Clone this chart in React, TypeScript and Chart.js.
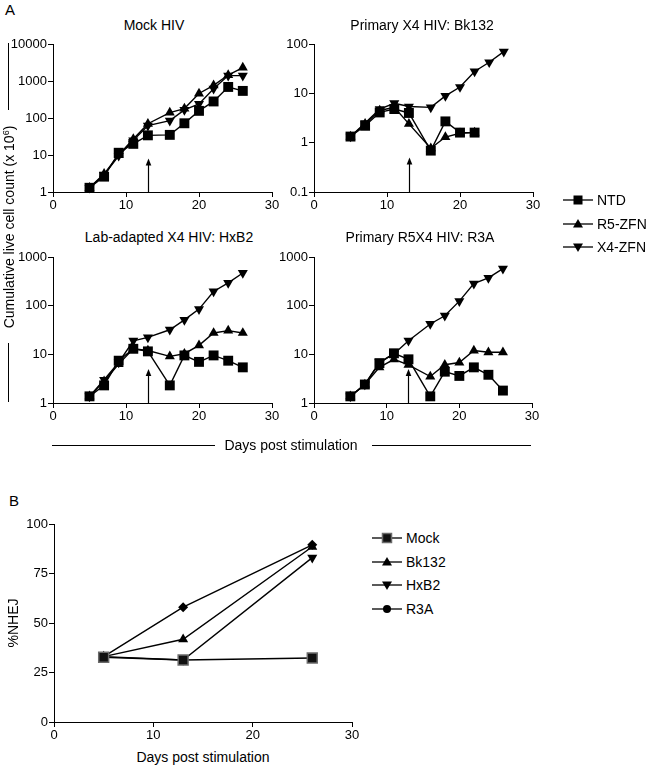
import React, { useEffect, useRef } from "react";
import { Chart, registerables } from "chart.js";
Chart.register(...registerables);

// ---------- data ----------
const DAYS_A = [5, 7, 9, 11, 13, 16, 18, 20, 22, 24, 26];
const SERIES_A = ["NTD", "R5-ZFN", "X4-ZFN"];

const MOCK_NTD = [1.3, 2.6, 11.5, 20, 34, 35, 72, 156, 280, 690, 540];
const MOCK_R5 = [1.3, 3.1, 10, 27, 70, 140, 180, 460, 760, 1450, 2300];
const MOCK_X4 = [1.3, 2.9, 9.5, 25, 62, 85, 166, 240, 620, 1400, 1400];

const BK_NTD = [1.33, 2.2, 4.1, 4.8, 4.0, 0.69, 2.7, 1.6, 1.6];
const BK_R5 = [1.33, 2.4, 4.5, 5.2, 2.4, 0.77, 1.3, 1.55, 1.6];
const BK_X4 = [1.33, 2.5, 4.8, 6.3, 5.4, 5.2, 8.9, 13.4, 27.7, 42.6, 70];

const HXB_NTD = [1.37, 2.3, 7.4, 13, 11.5, 2.3, 9.5, 7, 9.5, 7.4, 5.4];
const HXB_R5 = [1.37, 2.8, 6.3, 13, 12, 9.1, 10.3, 15.3, 27.5, 30.7, 27.5];
const HXB_X4 = [1.37, 3.0, 6.8, 19, 22.3, 32, 51, 85, 196, 293, 470];

const R3A_NTD = [1.37, 2.4, 6.6, 10.5, 7.9, 1.37, 4.4, 3.6, 5.4, 3.8, 1.8];
const R3A_R5 = [1.37, 2.4, 5.4, 7.9, 6.1, 3.5, 6.1, 6.8, 12, 11, 11];
const R3A_X4 = [1.37, 2.4, 6.9, 10.2, 19, 42, 62, 124, 284, 371, 576];

const ARROW_DAY = 13;
const ARROW_TIPS = [8, 0.5, 5, 5];

const TITLES_A = ["Mock HIV", "Primary X4 HIV: Bk132", "Lab-adapted X4 HIV: HxB2", "Primary R5X4 HIV: R3A"];
const LOG_TICKS_MOCK = [1, 10, 100, 1000, 10000];
const LOG_TICKS_BK = [0.1, 1, 10, 100];
const LOG_TICKS_LOW = [1, 10, 100, 1000];
const X_TICKS = [0, 10, 20, 30];

const DAYS_B = [5, 13, 26];
const SERIES_B = ["Mock", "Bk132", "HxB2", "R3A"];
const NHEJ_MOCK = [32.7, 31.3, 32.3];
const NHEJ_BK = [33, 41.8, 88.5];
const NHEJ_HXB = [33, 31.3, 83];
const NHEJ_R3A = [33, 58, 89.5];
const Y_TICKS_B = [0, 25, 50, 75, 100];

// ---------- styling ----------
const FONT = '"Liberation Sans", Arial, Helvetica, sans-serif';
const Y_AXIS_W = 48;
const X_AXIS_H = 25;
const PAD_TOP = 10;
const PAD_RIGHT = 12;

type Marker = { style: string; rot: number; r: number; bg: string; border: string; bw: number };
const SQ: Marker = { style: "rect", rot: 0, r: 7, bg: "#000", border: "#000", bw: 0 };
const UP: Marker = { style: "triangle", rot: 0, r: 5.8, bg: "#000", border: "#000", bw: 0 };
const DN: Marker = { style: "triangle", rot: 180, r: 5.8, bg: "#000", border: "#000", bw: 0 };
const SQ_B: Marker = { style: "rect", rot: 0, r: 7, bg: "#111", border: "#6a6a6a", bw: 1.5 };
const DIA: Marker = { style: "rectRot", rot: 0, r: 5, bg: "#000", border: "#000", bw: 0 };

const arrowPlugin = {
  id: "arrowMark",
  afterDatasetsDraw(chart: any, _args: any, opts: any) {
    if (!opts || opts.tip == null) return;
    const { ctx, scales, chartArea } = chart;
    const px = Math.round(scales.x.getPixelForValue(opts.day)) + 0.5;
    const y1 = scales.y.getPixelForValue(opts.tip);
    ctx.save();
    ctx.strokeStyle = "#000";
    ctx.fillStyle = "#000";
    ctx.lineWidth = 1.2;
    ctx.beginPath();
    ctx.moveTo(px, chartArea.bottom);
    ctx.lineTo(px, y1 + 4);
    ctx.stroke();
    ctx.beginPath();
    ctx.moveTo(px, y1);
    ctx.lineTo(px - 2.8, y1 + 7);
    ctx.lineTo(px + 2.8, y1 + 7);
    ctx.closePath();
    ctx.fill();
    ctx.restore();
  },
};

type Series = { label: string; data: number[]; m: Marker };
type PanelDef = {
  xs: number[];
  series: Series[];
  yType: "logarithmic" | "linear";
  yMin: number;
  yMax: number;
  yTicks: number[];
  xTicks: number[];
  arrowTip?: number;
};

function axisCommon() {
  return {
    grid: { display: true, drawOnChartArea: false, drawTicks: true, tickLength: 5, color: "#000", lineWidth: 1 },
    border: { display: true, color: "#000", width: 1 },
  };
}

function buildConfig(p: PanelDef): any {
  return {
    type: "line",
    data: {
      datasets: p.series.map((s, i) => ({
        label: s.label,
        data: s.data.map((v, j) => ({ x: p.xs[j], y: v })),
        borderColor: "#000",
        borderWidth: 1.4,
        pointStyle: s.m.style,
        rotation: s.m.rot,
        pointRadius: s.m.r,
        pointHoverRadius: s.m.r,
        pointBackgroundColor: s.m.bg,
        pointBorderColor: s.m.border,
        pointBorderWidth: s.m.bw,
        fill: false,
        tension: 0,
        order: i,
        clip: false,
      })),
    },
    options: {
      responsive: false,
      maintainAspectRatio: false,
      animation: false,
      events: [],
      layout: { padding: { top: PAD_TOP, right: PAD_RIGHT, left: 0, bottom: 0 } },
      plugins: {
        legend: { display: false },
        tooltip: { enabled: false },
        title: { display: false },
        arrowMark: p.arrowTip != null ? { day: ARROW_DAY, tip: p.arrowTip } : { tip: null },
      },
      scales: {
        x: {
          type: "linear",
          min: p.xTicks[0],
          max: p.xTicks[p.xTicks.length - 1],
          afterBuildTicks: (s: any) => {
            s.ticks = p.xTicks.map((v) => ({ value: v }));
          },
          afterFit: (s: any) => {
            s.height = X_AXIS_H;
          },
          ...axisCommon(),
          ticks: { color: "#000", padding: 1, maxRotation: 0, font: { family: FONT, size: 13 }, callback: (v: any) => String(v) },
        },
        y: {
          type: p.yType,
          min: p.yMin,
          max: p.yMax,
          afterBuildTicks: (s: any) => {
            s.ticks = p.yTicks.map((v) => ({ value: v }));
          },
          afterFit: (s: any) => {
            s.width = Y_AXIS_W;
          },
          ...axisCommon(),
          ticks: { color: "#000", padding: 1, font: { family: FONT, size: 13 }, callback: (v: any) => String(v) },
        },
      },
    },
    plugins: [arrowPlugin],
  };
}

function ChartBox({ def, left, top, width, height }: { def: PanelDef; left: number; top: number; width: number; height: number }) {
  const ref = useRef<HTMLCanvasElement | null>(null);
  useEffect(() => {
    if (!ref.current) return;
    const chart = new Chart(ref.current, buildConfig(def));
    return () => chart.destroy();
  }, []);
  return (
    <canvas
      ref={ref}
      width={width}
      height={height}
      style={{ position: "absolute", left, top, width, height }}
    />
  );
}

const mkA = (xs: number[], ntd: number[], r5: number[], x4: number[], yMin: number, yMax: number, yTicks: number[], tip: number): PanelDef => ({
  xs,
  series: [
    { label: SERIES_A[0], data: ntd, m: SQ },
    { label: SERIES_A[1], data: r5, m: UP },
    { label: SERIES_A[2], data: x4, m: DN },
  ],
  yType: "logarithmic",
  yMin,
  yMax,
  yTicks,
  xTicks: X_TICKS,
  arrowTip: tip,
});

const PANEL_MOCK = mkA(DAYS_A, MOCK_NTD, MOCK_R5, MOCK_X4, 1, 10000, LOG_TICKS_MOCK, ARROW_TIPS[0]);
const PANEL_BK = mkA(DAYS_A, BK_NTD, BK_R5, BK_X4, 0.1, 100, LOG_TICKS_BK, ARROW_TIPS[1]);
const PANEL_HXB = mkA(DAYS_A, HXB_NTD, HXB_R5, HXB_X4, 1, 1000, LOG_TICKS_LOW, ARROW_TIPS[2]);
const PANEL_R3A = mkA(DAYS_A, R3A_NTD, R3A_R5, R3A_X4, 1, 1000, LOG_TICKS_LOW, ARROW_TIPS[3]);

const PANEL_B: PanelDef = {
  xs: DAYS_B,
  series: [
    { label: SERIES_B[0], data: NHEJ_MOCK, m: SQ_B },
    { label: SERIES_B[1], data: NHEJ_BK, m: UP },
    { label: SERIES_B[2], data: NHEJ_HXB, m: DN },
    { label: SERIES_B[3], data: NHEJ_R3A, m: DIA },
  ],
  yType: "linear",
  yMin: 0,
  yMax: 100,
  yTicks: Y_TICKS_B,
  xTicks: X_TICKS,
};

// ---------- html helpers ----------
function Txt({ x, y, size = 14, rot = 0, left = false, children }: any) {
  return (
    <div
      style={{
        position: "absolute",
        left: x,
        top: y,
        transform: left ? "translate(0,-50%)" : `translate(-50%,-50%) rotate(${rot}deg)`,
        whiteSpace: "nowrap",
        fontSize: size,
        lineHeight: 1,
      }}
    >
      {children}
    </div>
  );
}
const HLine = ({ x1, x2, y }: any) => (
  <div style={{ position: "absolute", left: x1, top: y, width: x2 - x1, height: 0, borderTop: "1px solid #000" }} />
);
const VLine = ({ x, y1, y2 }: any) => (
  <div style={{ position: "absolute", left: x, top: y1, width: 0, height: y2 - y1, borderLeft: "1px solid #000" }} />
);

function LegendRow({ x, y, marker, label }: { x: number; y: number; marker: string; label: string }) {
  const c = 15;
  let shape: any = null;
  if (marker === "square") shape = <rect x={c - 4.5} y={7 - 4.5} width={9} height={9} fill="#000" />;
  if (marker === "squareB") shape = <rect x={c - 4.5} y={7 - 4.5} width={9} height={9} fill="#111" stroke="#6a6a6a" strokeWidth={1.5} />;
  if (marker === "up") shape = <polygon points={`${c},2 ${c + 5},10.5 ${c - 5},10.5`} fill="#000" />;
  if (marker === "down") shape = <polygon points={`${c},12 ${c + 5},3.5 ${c - 5},3.5`} fill="#000" />;
  if (marker === "circle") shape = <circle cx={c} cy={7} r={4} fill="#000" />;
  return (
    <>
      <svg width={30} height={14} style={{ position: "absolute", left: x, top: y - 7 }}>
        <line x1={0} y1={7} x2={30} y2={7} stroke="#000" strokeWidth={1.3} />
        {shape}
      </svg>
      <Txt x={x + 34} y={y} left>
        {label}
      </Txt>
    </>
  );
}

const LEGEND_A_MARKERS = ["square", "up", "down"];
const LEGEND_B_MARKERS = ["squareB", "up", "down", "circle"];

export default function App() {
  return (
    <div
      style={{
        position: "absolute",
        left: 0,
        top: 0,
        width: 649,
        height: 768,
        background: "#fff",
        color: "#000",
        fontFamily: FONT,
        overflow: "hidden",
      }}
    >
      {/* Panel A charts */}
      <ChartBox def={PANEL_MOCK} left={53 - Y_AXIS_W} top={44 - PAD_TOP} width={Y_AXIS_W + 219 + PAD_RIGHT} height={PAD_TOP + 148 + X_AXIS_H} />
      <ChartBox def={PANEL_BK} left={314 - Y_AXIS_W} top={44 - PAD_TOP} width={Y_AXIS_W + 219 + PAD_RIGHT} height={PAD_TOP + 148 + X_AXIS_H} />
      <ChartBox def={PANEL_HXB} left={53 - Y_AXIS_W} top={257 - PAD_TOP} width={Y_AXIS_W + 219 + PAD_RIGHT} height={PAD_TOP + 146 + X_AXIS_H} />
      <ChartBox def={PANEL_R3A} left={314 - Y_AXIS_W} top={257 - PAD_TOP} width={Y_AXIS_W + 218 + PAD_RIGHT} height={PAD_TOP + 146 + X_AXIS_H} />
      {/* Panel B chart */}
      <ChartBox def={PANEL_B} left={54 - Y_AXIS_W} top={524 - PAD_TOP} width={Y_AXIS_W + 298 + PAD_RIGHT} height={PAD_TOP + 198 + X_AXIS_H} />

      {/* Panel labels */}
      <Txt x={10} y={9} size={15}>A</Txt>
      <Txt x={14} y={500} size={15}>B</Txt>

      {/* Titles */}
      <Txt x={154} y={25}>{TITLES_A[0]}</Txt>
      <Txt x={422} y={25}>{TITLES_A[1]}</Txt>
      <Txt x={169} y={237}>{TITLES_A[2]}</Txt>
      <Txt x={420} y={237}>{TITLES_A[3]}</Txt>

      {/* Shared y title panel A */}
      <VLine x={8} y1={43} y2={110} />
      <VLine x={8} y1={343} y2={402} />
      <Txt x={9} y={227} rot={-90}>
        Cumulative live cell count (x 10<sup style={{ fontSize: 9, verticalAlign: "5px" }}>6</sup>)
      </Txt>

      {/* Shared x title panel A */}
      <HLine x1={52} x2={215} y={445} />
      <HLine x1={372} x2={531} y={445} />
      <Txt x={291} y={445}>Days post stimulation</Txt>

      {/* Legend A */}
      {SERIES_A.map((s, i) => (
        <LegendRow key={s} x={563} y={200 + i * 23.5} marker={LEGEND_A_MARKERS[i]} label={s} />
      ))}

      {/* Panel B titles */}
      <Txt x={13} y={623} rot={-90}>%NHEJ</Txt>
      <Txt x={203} y={757}>Days post stimulation</Txt>

      {/* Legend B */}
      {SERIES_B.map((s, i) => (
        <LegendRow key={s} x={372} y={538 + i * 23.7} marker={LEGEND_B_MARKERS[i]} label={s} />
      ))}
    </div>
  );
}
